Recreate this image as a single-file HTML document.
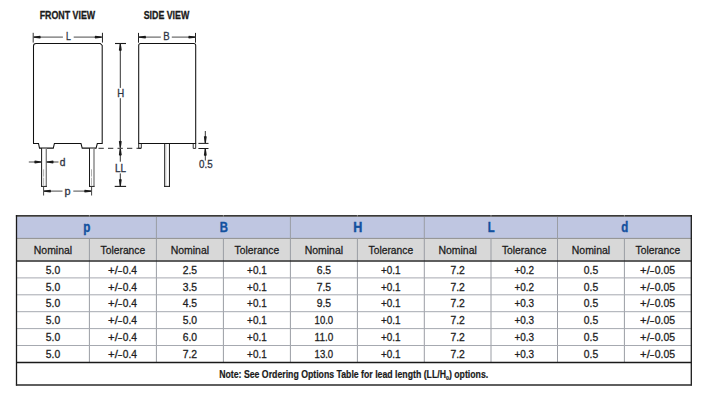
<!DOCTYPE html>
<html><head><meta charset="utf-8"><title>Dimensions</title>
<style>html,body{margin:0;padding:0;background:#fff;width:705px;height:409px;overflow:hidden}svg{display:block}</style>
</head><body>
<svg width="705" height="409" viewBox="0 0 705 409" font-family="'Liberation Sans', Arial, sans-serif">
<rect x="16.50" y="217.00" width="674.80" height="21.30" fill="#bfc6e1"/>
<rect x="16.50" y="238.30" width="674.80" height="21.90" fill="#d8d8d8"/>
<line x1="16.50" y1="238.40" x2="691.30" y2="238.40" stroke="#8e8e8e" stroke-width="1.0"/>
<line x1="89.40" y1="238.40" x2="89.40" y2="362.40" stroke="#9a9da4" stroke-width="1.0"/>
<line x1="156.40" y1="217.00" x2="156.40" y2="362.40" stroke="#9a9da4" stroke-width="1.0"/>
<line x1="223.40" y1="238.40" x2="223.40" y2="362.40" stroke="#9a9da4" stroke-width="1.0"/>
<line x1="290.40" y1="217.00" x2="290.40" y2="362.40" stroke="#9a9da4" stroke-width="1.0"/>
<line x1="357.40" y1="238.40" x2="357.40" y2="362.40" stroke="#9a9da4" stroke-width="1.0"/>
<line x1="424.30" y1="217.00" x2="424.30" y2="362.40" stroke="#9a9da4" stroke-width="1.0"/>
<line x1="491.00" y1="238.40" x2="491.00" y2="362.40" stroke="#9a9da4" stroke-width="1.0"/>
<line x1="557.50" y1="217.00" x2="557.50" y2="362.40" stroke="#9a9da4" stroke-width="1.0"/>
<line x1="624.40" y1="238.40" x2="624.40" y2="362.40" stroke="#9a9da4" stroke-width="1.0"/>
<line x1="16.50" y1="277.90" x2="691.30" y2="277.90" stroke="#a6a9b0" stroke-width="1.0"/>
<line x1="16.50" y1="294.80" x2="691.30" y2="294.80" stroke="#a6a9b0" stroke-width="1.0"/>
<line x1="16.50" y1="311.70" x2="691.30" y2="311.70" stroke="#a6a9b0" stroke-width="1.0"/>
<line x1="16.50" y1="328.60" x2="691.30" y2="328.60" stroke="#a6a9b0" stroke-width="1.0"/>
<line x1="16.50" y1="345.50" x2="691.30" y2="345.50" stroke="#a6a9b0" stroke-width="1.0"/>
<line x1="16.50" y1="261.00" x2="691.30" y2="261.00" stroke="#2a2a2a" stroke-width="1.6"/>
<line x1="16.50" y1="362.40" x2="691.30" y2="362.40" stroke="#1a1a1a" stroke-width="1.5"/>
<line x1="15.90" y1="215.90" x2="691.90" y2="215.90" stroke="#3a3a3a" stroke-width="1.9"/>
<line x1="16.50" y1="215.00" x2="16.50" y2="385.60" stroke="#1a1a1a" stroke-width="1.3"/>
<line x1="691.30" y1="215.00" x2="691.30" y2="385.60" stroke="#1a1a1a" stroke-width="1.3"/>
<line x1="15.90" y1="385.00" x2="691.90" y2="385.00" stroke="#2a2a2a" stroke-width="1.5"/>
<line x1="89.40" y1="215.00" x2="89.40" y2="217.00" stroke="#8a8a8a" stroke-width="1.0"/>
<line x1="223.40" y1="215.00" x2="223.40" y2="217.00" stroke="#8a8a8a" stroke-width="1.0"/>
<line x1="357.40" y1="215.00" x2="357.40" y2="217.00" stroke="#8a8a8a" stroke-width="1.0"/>
<line x1="491.00" y1="215.00" x2="491.00" y2="217.00" stroke="#8a8a8a" stroke-width="1.0"/>
<line x1="624.40" y1="215.00" x2="624.40" y2="217.00" stroke="#8a8a8a" stroke-width="1.0"/>
<text x="86.80" y="231.90" font-size="14" text-anchor="middle" font-weight="bold" fill="#13519f" stroke="#13519f" stroke-width="0.4" textLength="7.10" lengthAdjust="spacingAndGlyphs">p</text>
<text x="223.75" y="231.90" font-size="14" text-anchor="middle" font-weight="bold" fill="#13519f" stroke="#13519f" stroke-width="0.4" textLength="8.20" lengthAdjust="spacingAndGlyphs">B</text>
<text x="357.70" y="231.90" font-size="14" text-anchor="middle" font-weight="bold" fill="#13519f" stroke="#13519f" stroke-width="0.4" textLength="9.10" lengthAdjust="spacingAndGlyphs">H</text>
<text x="491.25" y="231.90" font-size="14" text-anchor="middle" font-weight="bold" fill="#13519f" stroke="#13519f" stroke-width="0.4" textLength="6.90" lengthAdjust="spacingAndGlyphs">L</text>
<text x="624.75" y="231.90" font-size="14" text-anchor="middle" font-weight="bold" fill="#13519f" stroke="#13519f" stroke-width="0.4" textLength="7.00" lengthAdjust="spacingAndGlyphs">d</text>
<text x="52.95" y="253.80" font-size="11.8" text-anchor="middle" font-weight="normal" fill="#1c1c1c" stroke="#1c1c1c" stroke-width="0.3" textLength="38.40" lengthAdjust="spacingAndGlyphs">Nominal</text>
<text x="122.90" y="253.80" font-size="11.8" text-anchor="middle" font-weight="normal" fill="#1c1c1c" stroke="#1c1c1c" stroke-width="0.3" textLength="44.60" lengthAdjust="spacingAndGlyphs">Tolerance</text>
<text x="189.90" y="253.80" font-size="11.8" text-anchor="middle" font-weight="normal" fill="#1c1c1c" stroke="#1c1c1c" stroke-width="0.3" textLength="38.40" lengthAdjust="spacingAndGlyphs">Nominal</text>
<text x="256.90" y="253.80" font-size="11.8" text-anchor="middle" font-weight="normal" fill="#1c1c1c" stroke="#1c1c1c" stroke-width="0.3" textLength="44.60" lengthAdjust="spacingAndGlyphs">Tolerance</text>
<text x="323.90" y="253.80" font-size="11.8" text-anchor="middle" font-weight="normal" fill="#1c1c1c" stroke="#1c1c1c" stroke-width="0.3" textLength="38.40" lengthAdjust="spacingAndGlyphs">Nominal</text>
<text x="390.85" y="253.80" font-size="11.8" text-anchor="middle" font-weight="normal" fill="#1c1c1c" stroke="#1c1c1c" stroke-width="0.3" textLength="44.60" lengthAdjust="spacingAndGlyphs">Tolerance</text>
<text x="457.65" y="253.80" font-size="11.8" text-anchor="middle" font-weight="normal" fill="#1c1c1c" stroke="#1c1c1c" stroke-width="0.3" textLength="38.40" lengthAdjust="spacingAndGlyphs">Nominal</text>
<text x="524.25" y="253.80" font-size="11.8" text-anchor="middle" font-weight="normal" fill="#1c1c1c" stroke="#1c1c1c" stroke-width="0.3" textLength="44.60" lengthAdjust="spacingAndGlyphs">Tolerance</text>
<text x="590.95" y="253.80" font-size="11.8" text-anchor="middle" font-weight="normal" fill="#1c1c1c" stroke="#1c1c1c" stroke-width="0.3" textLength="38.40" lengthAdjust="spacingAndGlyphs">Nominal</text>
<text x="657.85" y="253.80" font-size="11.8" text-anchor="middle" font-weight="normal" fill="#1c1c1c" stroke="#1c1c1c" stroke-width="0.3" textLength="44.60" lengthAdjust="spacingAndGlyphs">Tolerance</text>
<text x="52.95" y="273.90" font-size="11" text-anchor="middle" font-weight="normal" fill="#1e1e1e" stroke="#1e1e1e" stroke-width="0.3" textLength="14.40" lengthAdjust="spacingAndGlyphs">5.0</text>
<text y="273.90" font-size="11" fill="#1e1e1e" stroke="#1e1e1e" stroke-width="0.3"><tspan x="108.09" textLength="9.75" lengthAdjust="spacingAndGlyphs">+/</tspan><tspan x="117.62" textLength="5.05" lengthAdjust="spacingAndGlyphs">-</tspan><tspan x="122.85" textLength="14.20" lengthAdjust="spacingAndGlyphs">0.4</tspan></text>
<text x="189.90" y="273.90" font-size="11" text-anchor="middle" font-weight="normal" fill="#1e1e1e" stroke="#1e1e1e" stroke-width="0.3" textLength="14.40" lengthAdjust="spacingAndGlyphs">2.5</text>
<text x="256.90" y="273.90" font-size="11" text-anchor="middle" font-weight="normal" fill="#1e1e1e" stroke="#1e1e1e" stroke-width="0.3" textLength="19.60" lengthAdjust="spacingAndGlyphs">+0.1</text>
<text x="323.90" y="273.90" font-size="11" text-anchor="middle" font-weight="normal" fill="#1e1e1e" stroke="#1e1e1e" stroke-width="0.3" textLength="14.40" lengthAdjust="spacingAndGlyphs">6.5</text>
<text x="390.85" y="273.90" font-size="11" text-anchor="middle" font-weight="normal" fill="#1e1e1e" stroke="#1e1e1e" stroke-width="0.3" textLength="19.60" lengthAdjust="spacingAndGlyphs">+0.1</text>
<text x="457.65" y="273.90" font-size="11" text-anchor="middle" font-weight="normal" fill="#1e1e1e" stroke="#1e1e1e" stroke-width="0.3" textLength="14.40" lengthAdjust="spacingAndGlyphs">7.2</text>
<text x="524.25" y="273.90" font-size="11" text-anchor="middle" font-weight="normal" fill="#1e1e1e" stroke="#1e1e1e" stroke-width="0.3" textLength="19.60" lengthAdjust="spacingAndGlyphs">+0.2</text>
<text x="590.95" y="273.90" font-size="11" text-anchor="middle" font-weight="normal" fill="#1e1e1e" stroke="#1e1e1e" stroke-width="0.3" textLength="14.40" lengthAdjust="spacingAndGlyphs">0.5</text>
<text y="273.90" font-size="11" fill="#1e1e1e" stroke="#1e1e1e" stroke-width="0.3"><tspan x="640.04" textLength="9.75" lengthAdjust="spacingAndGlyphs">+/</tspan><tspan x="649.57" textLength="5.05" lengthAdjust="spacingAndGlyphs">-</tspan><tspan x="654.79" textLength="20.35" lengthAdjust="spacingAndGlyphs">0.05</tspan></text>
<text x="52.95" y="290.66" font-size="11" text-anchor="middle" font-weight="normal" fill="#1e1e1e" stroke="#1e1e1e" stroke-width="0.3" textLength="14.40" lengthAdjust="spacingAndGlyphs">5.0</text>
<text y="290.66" font-size="11" fill="#1e1e1e" stroke="#1e1e1e" stroke-width="0.3"><tspan x="108.09" textLength="9.75" lengthAdjust="spacingAndGlyphs">+/</tspan><tspan x="117.62" textLength="5.05" lengthAdjust="spacingAndGlyphs">-</tspan><tspan x="122.85" textLength="14.20" lengthAdjust="spacingAndGlyphs">0.4</tspan></text>
<text x="189.90" y="290.66" font-size="11" text-anchor="middle" font-weight="normal" fill="#1e1e1e" stroke="#1e1e1e" stroke-width="0.3" textLength="14.40" lengthAdjust="spacingAndGlyphs">3.5</text>
<text x="256.90" y="290.66" font-size="11" text-anchor="middle" font-weight="normal" fill="#1e1e1e" stroke="#1e1e1e" stroke-width="0.3" textLength="19.60" lengthAdjust="spacingAndGlyphs">+0.1</text>
<text x="323.90" y="290.66" font-size="11" text-anchor="middle" font-weight="normal" fill="#1e1e1e" stroke="#1e1e1e" stroke-width="0.3" textLength="14.40" lengthAdjust="spacingAndGlyphs">7.5</text>
<text x="390.85" y="290.66" font-size="11" text-anchor="middle" font-weight="normal" fill="#1e1e1e" stroke="#1e1e1e" stroke-width="0.3" textLength="19.60" lengthAdjust="spacingAndGlyphs">+0.1</text>
<text x="457.65" y="290.66" font-size="11" text-anchor="middle" font-weight="normal" fill="#1e1e1e" stroke="#1e1e1e" stroke-width="0.3" textLength="14.40" lengthAdjust="spacingAndGlyphs">7.2</text>
<text x="524.25" y="290.66" font-size="11" text-anchor="middle" font-weight="normal" fill="#1e1e1e" stroke="#1e1e1e" stroke-width="0.3" textLength="19.60" lengthAdjust="spacingAndGlyphs">+0.2</text>
<text x="590.95" y="290.66" font-size="11" text-anchor="middle" font-weight="normal" fill="#1e1e1e" stroke="#1e1e1e" stroke-width="0.3" textLength="14.40" lengthAdjust="spacingAndGlyphs">0.5</text>
<text y="290.66" font-size="11" fill="#1e1e1e" stroke="#1e1e1e" stroke-width="0.3"><tspan x="640.04" textLength="9.75" lengthAdjust="spacingAndGlyphs">+/</tspan><tspan x="649.57" textLength="5.05" lengthAdjust="spacingAndGlyphs">-</tspan><tspan x="654.79" textLength="20.35" lengthAdjust="spacingAndGlyphs">0.05</tspan></text>
<text x="52.95" y="307.42" font-size="11" text-anchor="middle" font-weight="normal" fill="#1e1e1e" stroke="#1e1e1e" stroke-width="0.3" textLength="14.40" lengthAdjust="spacingAndGlyphs">5.0</text>
<text y="307.42" font-size="11" fill="#1e1e1e" stroke="#1e1e1e" stroke-width="0.3"><tspan x="108.09" textLength="9.75" lengthAdjust="spacingAndGlyphs">+/</tspan><tspan x="117.62" textLength="5.05" lengthAdjust="spacingAndGlyphs">-</tspan><tspan x="122.85" textLength="14.20" lengthAdjust="spacingAndGlyphs">0.4</tspan></text>
<text x="189.90" y="307.42" font-size="11" text-anchor="middle" font-weight="normal" fill="#1e1e1e" stroke="#1e1e1e" stroke-width="0.3" textLength="14.40" lengthAdjust="spacingAndGlyphs">4.5</text>
<text x="256.90" y="307.42" font-size="11" text-anchor="middle" font-weight="normal" fill="#1e1e1e" stroke="#1e1e1e" stroke-width="0.3" textLength="19.60" lengthAdjust="spacingAndGlyphs">+0.1</text>
<text x="323.90" y="307.42" font-size="11" text-anchor="middle" font-weight="normal" fill="#1e1e1e" stroke="#1e1e1e" stroke-width="0.3" textLength="14.40" lengthAdjust="spacingAndGlyphs">9.5</text>
<text x="390.85" y="307.42" font-size="11" text-anchor="middle" font-weight="normal" fill="#1e1e1e" stroke="#1e1e1e" stroke-width="0.3" textLength="19.60" lengthAdjust="spacingAndGlyphs">+0.1</text>
<text x="457.65" y="307.42" font-size="11" text-anchor="middle" font-weight="normal" fill="#1e1e1e" stroke="#1e1e1e" stroke-width="0.3" textLength="14.40" lengthAdjust="spacingAndGlyphs">7.2</text>
<text x="524.25" y="307.42" font-size="11" text-anchor="middle" font-weight="normal" fill="#1e1e1e" stroke="#1e1e1e" stroke-width="0.3" textLength="19.60" lengthAdjust="spacingAndGlyphs">+0.3</text>
<text x="590.95" y="307.42" font-size="11" text-anchor="middle" font-weight="normal" fill="#1e1e1e" stroke="#1e1e1e" stroke-width="0.3" textLength="14.40" lengthAdjust="spacingAndGlyphs">0.5</text>
<text y="307.42" font-size="11" fill="#1e1e1e" stroke="#1e1e1e" stroke-width="0.3"><tspan x="640.04" textLength="9.75" lengthAdjust="spacingAndGlyphs">+/</tspan><tspan x="649.57" textLength="5.05" lengthAdjust="spacingAndGlyphs">-</tspan><tspan x="654.79" textLength="20.35" lengthAdjust="spacingAndGlyphs">0.05</tspan></text>
<text x="52.95" y="324.18" font-size="11" text-anchor="middle" font-weight="normal" fill="#1e1e1e" stroke="#1e1e1e" stroke-width="0.3" textLength="14.40" lengthAdjust="spacingAndGlyphs">5.0</text>
<text y="324.18" font-size="11" fill="#1e1e1e" stroke="#1e1e1e" stroke-width="0.3"><tspan x="108.09" textLength="9.75" lengthAdjust="spacingAndGlyphs">+/</tspan><tspan x="117.62" textLength="5.05" lengthAdjust="spacingAndGlyphs">-</tspan><tspan x="122.85" textLength="14.20" lengthAdjust="spacingAndGlyphs">0.4</tspan></text>
<text x="189.90" y="324.18" font-size="11" text-anchor="middle" font-weight="normal" fill="#1e1e1e" stroke="#1e1e1e" stroke-width="0.3" textLength="14.40" lengthAdjust="spacingAndGlyphs">5.0</text>
<text x="256.90" y="324.18" font-size="11" text-anchor="middle" font-weight="normal" fill="#1e1e1e" stroke="#1e1e1e" stroke-width="0.3" textLength="19.60" lengthAdjust="spacingAndGlyphs">+0.1</text>
<text x="323.90" y="324.18" font-size="11" text-anchor="middle" font-weight="normal" fill="#1e1e1e" stroke="#1e1e1e" stroke-width="0.3" textLength="18.60" lengthAdjust="spacingAndGlyphs">10.0</text>
<text x="390.85" y="324.18" font-size="11" text-anchor="middle" font-weight="normal" fill="#1e1e1e" stroke="#1e1e1e" stroke-width="0.3" textLength="19.60" lengthAdjust="spacingAndGlyphs">+0.1</text>
<text x="457.65" y="324.18" font-size="11" text-anchor="middle" font-weight="normal" fill="#1e1e1e" stroke="#1e1e1e" stroke-width="0.3" textLength="14.40" lengthAdjust="spacingAndGlyphs">7.2</text>
<text x="524.25" y="324.18" font-size="11" text-anchor="middle" font-weight="normal" fill="#1e1e1e" stroke="#1e1e1e" stroke-width="0.3" textLength="19.60" lengthAdjust="spacingAndGlyphs">+0.3</text>
<text x="590.95" y="324.18" font-size="11" text-anchor="middle" font-weight="normal" fill="#1e1e1e" stroke="#1e1e1e" stroke-width="0.3" textLength="14.40" lengthAdjust="spacingAndGlyphs">0.5</text>
<text y="324.18" font-size="11" fill="#1e1e1e" stroke="#1e1e1e" stroke-width="0.3"><tspan x="640.04" textLength="9.75" lengthAdjust="spacingAndGlyphs">+/</tspan><tspan x="649.57" textLength="5.05" lengthAdjust="spacingAndGlyphs">-</tspan><tspan x="654.79" textLength="20.35" lengthAdjust="spacingAndGlyphs">0.05</tspan></text>
<text x="52.95" y="340.94" font-size="11" text-anchor="middle" font-weight="normal" fill="#1e1e1e" stroke="#1e1e1e" stroke-width="0.3" textLength="14.40" lengthAdjust="spacingAndGlyphs">5.0</text>
<text y="340.94" font-size="11" fill="#1e1e1e" stroke="#1e1e1e" stroke-width="0.3"><tspan x="108.09" textLength="9.75" lengthAdjust="spacingAndGlyphs">+/</tspan><tspan x="117.62" textLength="5.05" lengthAdjust="spacingAndGlyphs">-</tspan><tspan x="122.85" textLength="14.20" lengthAdjust="spacingAndGlyphs">0.4</tspan></text>
<text x="189.90" y="340.94" font-size="11" text-anchor="middle" font-weight="normal" fill="#1e1e1e" stroke="#1e1e1e" stroke-width="0.3" textLength="14.40" lengthAdjust="spacingAndGlyphs">6.0</text>
<text x="256.90" y="340.94" font-size="11" text-anchor="middle" font-weight="normal" fill="#1e1e1e" stroke="#1e1e1e" stroke-width="0.3" textLength="19.60" lengthAdjust="spacingAndGlyphs">+0.1</text>
<text x="323.90" y="340.94" font-size="11" text-anchor="middle" font-weight="normal" fill="#1e1e1e" stroke="#1e1e1e" stroke-width="0.3" textLength="18.60" lengthAdjust="spacingAndGlyphs">11.0</text>
<text x="390.85" y="340.94" font-size="11" text-anchor="middle" font-weight="normal" fill="#1e1e1e" stroke="#1e1e1e" stroke-width="0.3" textLength="19.60" lengthAdjust="spacingAndGlyphs">+0.1</text>
<text x="457.65" y="340.94" font-size="11" text-anchor="middle" font-weight="normal" fill="#1e1e1e" stroke="#1e1e1e" stroke-width="0.3" textLength="14.40" lengthAdjust="spacingAndGlyphs">7.2</text>
<text x="524.25" y="340.94" font-size="11" text-anchor="middle" font-weight="normal" fill="#1e1e1e" stroke="#1e1e1e" stroke-width="0.3" textLength="19.60" lengthAdjust="spacingAndGlyphs">+0.3</text>
<text x="590.95" y="340.94" font-size="11" text-anchor="middle" font-weight="normal" fill="#1e1e1e" stroke="#1e1e1e" stroke-width="0.3" textLength="14.40" lengthAdjust="spacingAndGlyphs">0.5</text>
<text y="340.94" font-size="11" fill="#1e1e1e" stroke="#1e1e1e" stroke-width="0.3"><tspan x="640.04" textLength="9.75" lengthAdjust="spacingAndGlyphs">+/</tspan><tspan x="649.57" textLength="5.05" lengthAdjust="spacingAndGlyphs">-</tspan><tspan x="654.79" textLength="20.35" lengthAdjust="spacingAndGlyphs">0.05</tspan></text>
<text x="52.95" y="357.70" font-size="11" text-anchor="middle" font-weight="normal" fill="#1e1e1e" stroke="#1e1e1e" stroke-width="0.3" textLength="14.40" lengthAdjust="spacingAndGlyphs">5.0</text>
<text y="357.70" font-size="11" fill="#1e1e1e" stroke="#1e1e1e" stroke-width="0.3"><tspan x="108.09" textLength="9.75" lengthAdjust="spacingAndGlyphs">+/</tspan><tspan x="117.62" textLength="5.05" lengthAdjust="spacingAndGlyphs">-</tspan><tspan x="122.85" textLength="14.20" lengthAdjust="spacingAndGlyphs">0.4</tspan></text>
<text x="189.90" y="357.70" font-size="11" text-anchor="middle" font-weight="normal" fill="#1e1e1e" stroke="#1e1e1e" stroke-width="0.3" textLength="14.40" lengthAdjust="spacingAndGlyphs">7.2</text>
<text x="256.90" y="357.70" font-size="11" text-anchor="middle" font-weight="normal" fill="#1e1e1e" stroke="#1e1e1e" stroke-width="0.3" textLength="19.60" lengthAdjust="spacingAndGlyphs">+0.1</text>
<text x="323.90" y="357.70" font-size="11" text-anchor="middle" font-weight="normal" fill="#1e1e1e" stroke="#1e1e1e" stroke-width="0.3" textLength="18.60" lengthAdjust="spacingAndGlyphs">13.0</text>
<text x="390.85" y="357.70" font-size="11" text-anchor="middle" font-weight="normal" fill="#1e1e1e" stroke="#1e1e1e" stroke-width="0.3" textLength="19.60" lengthAdjust="spacingAndGlyphs">+0.1</text>
<text x="457.65" y="357.70" font-size="11" text-anchor="middle" font-weight="normal" fill="#1e1e1e" stroke="#1e1e1e" stroke-width="0.3" textLength="14.40" lengthAdjust="spacingAndGlyphs">7.2</text>
<text x="524.25" y="357.70" font-size="11" text-anchor="middle" font-weight="normal" fill="#1e1e1e" stroke="#1e1e1e" stroke-width="0.3" textLength="19.60" lengthAdjust="spacingAndGlyphs">+0.3</text>
<text x="590.95" y="357.70" font-size="11" text-anchor="middle" font-weight="normal" fill="#1e1e1e" stroke="#1e1e1e" stroke-width="0.3" textLength="14.40" lengthAdjust="spacingAndGlyphs">0.5</text>
<text y="357.70" font-size="11" fill="#1e1e1e" stroke="#1e1e1e" stroke-width="0.3"><tspan x="640.04" textLength="9.75" lengthAdjust="spacingAndGlyphs">+/</tspan><tspan x="649.57" textLength="5.05" lengthAdjust="spacingAndGlyphs">-</tspan><tspan x="654.79" textLength="20.35" lengthAdjust="spacingAndGlyphs">0.05</tspan></text>
<text x="219.2" y="377.7" font-size="10" font-weight="bold" fill="#1a1a1a" stroke="#1a1a1a" stroke-width="0.2" textLength="269" lengthAdjust="spacingAndGlyphs">Note: See Ordering Options Table for lead length (LL/H<tspan font-size="6" dy="2">0</tspan><tspan dy="-2">) options.</tspan></text>
<text x="67.40" y="18.80" font-size="10.0" text-anchor="middle" font-weight="bold" fill="#1a1a1a" stroke="#1a1a1a" stroke-width="0.3" textLength="55.50" lengthAdjust="spacingAndGlyphs">FRONT VIEW</text>
<text x="166.50" y="19.30" font-size="10.0" text-anchor="middle" font-weight="bold" fill="#1a1a1a" stroke="#1a1a1a" stroke-width="0.3" textLength="45.60" lengthAdjust="spacingAndGlyphs">SIDE VIEW</text>
<path d="M33.5,143.5 V46.0 Q33.5,43.5 36.0,43.5 H100.2 L102.2,45.5 V143.5 H97.3 L96.1,148.1 H82.2 L81.0,143.5 H54.4 L53.3,148.1 H39.5 L38.5,143.5 Z" fill="none" stroke="#111" stroke-width="1.05"/>
<rect x="41.60" y="148.7" width="4.70" height="37.7" fill="#fff"/>
<line x1="46.30" y1="148.10" x2="46.30" y2="186.40" stroke="#7a7a7a" stroke-width="1.3"/>
<line x1="41.60" y1="148.10" x2="41.60" y2="186.90" stroke="#1a1a1a" stroke-width="1.0"/>
<line x1="41.10" y1="186.40" x2="46.90" y2="186.40" stroke="#1a1a1a" stroke-width="1.0"/>
<line x1="43.60" y1="169.30" x2="43.60" y2="176.60" stroke="#b0b0b0" stroke-width="1.0"/>
<line x1="43.60" y1="177.70" x2="43.60" y2="185.60" stroke="#b8b8b8" stroke-width="1.0"/>
<rect x="89.50" y="148.7" width="4.50" height="37.7" fill="#fff"/>
<line x1="94.00" y1="148.10" x2="94.00" y2="186.40" stroke="#7a7a7a" stroke-width="1.3"/>
<line x1="89.50" y1="148.10" x2="89.50" y2="186.90" stroke="#1a1a1a" stroke-width="1.0"/>
<line x1="89.00" y1="186.40" x2="94.60" y2="186.40" stroke="#1a1a1a" stroke-width="1.0"/>
<line x1="91.50" y1="169.30" x2="91.50" y2="176.60" stroke="#b0b0b0" stroke-width="1.0"/>
<line x1="91.50" y1="177.70" x2="91.50" y2="185.60" stroke="#b8b8b8" stroke-width="1.0"/>
<line x1="33.20" y1="32.80" x2="33.20" y2="42.60" stroke="#333" stroke-width="1"/>
<line x1="102.45" y1="32.80" x2="102.45" y2="42.60" stroke="#222" stroke-width="1"/>
<line x1="33.50" y1="37.10" x2="62.90" y2="37.10" stroke="#5a5a5a" stroke-width="1.1"/>
<line x1="73.70" y1="37.10" x2="102.00" y2="37.10" stroke="#5a5a5a" stroke-width="1.1"/>
<path d="M33.70,36.55 L40.20,35.65 Q41.40,37.10 40.20,38.55 L33.70,37.65 Z" fill="#1a1a1a"/>
<path d="M101.70,37.65 L95.20,38.55 Q94.00,37.10 95.20,35.65 L101.70,36.55 Z" fill="#1a1a1a"/>
<text x="68.30" y="39.60" font-size="10.4" text-anchor="middle" font-weight="normal" fill="#2e3442" stroke="#2e3442" stroke-width="0.3" textLength="4.85" lengthAdjust="spacingAndGlyphs">L</text>
<line x1="115.00" y1="43.50" x2="126.00" y2="43.50" stroke="#1a1a1a" stroke-width="1.1"/>
<line x1="120.30" y1="43.50" x2="120.30" y2="87.90" stroke="#333" stroke-width="1.0"/>
<line x1="120.30" y1="98.20" x2="120.30" y2="148.00" stroke="#333" stroke-width="1.0"/>
<path d="M120.85,43.80 L121.75,50.30 Q120.30,51.50 118.85,50.30 L119.75,43.80 Z" fill="#1a1a1a"/>
<path d="M119.75,147.80 L118.85,141.30 Q120.30,140.10 121.75,141.30 L120.85,147.80 Z" fill="#1a1a1a"/>
<text x="120.80" y="96.70" font-size="10.6" text-anchor="middle" font-weight="normal" fill="#2e3442" stroke="#2e3442" stroke-width="0.3" textLength="6.95" lengthAdjust="spacingAndGlyphs">H</text>
<line x1="120.30" y1="148.60" x2="120.30" y2="161.70" stroke="#333" stroke-width="1.0"/>
<line x1="120.30" y1="173.40" x2="120.30" y2="186.30" stroke="#333" stroke-width="1.0"/>
<path d="M120.85,148.60 L121.75,155.10 Q120.30,156.30 118.85,155.10 L119.75,148.60 Z" fill="#1a1a1a"/>
<path d="M119.75,186.00 L118.85,179.50 Q120.30,178.30 121.75,179.50 L120.85,186.00 Z" fill="#1a1a1a"/>
<line x1="114.70" y1="186.40" x2="126.10" y2="186.40" stroke="#1a1a1a" stroke-width="1.1"/>
<text x="120.50" y="171.90" font-size="10.2" text-anchor="middle" font-weight="normal" fill="#2e3442" stroke="#2e3442" stroke-width="0.3" textLength="11.00" lengthAdjust="spacingAndGlyphs">LL</text>
<line x1="98.5" y1="148.4" x2="141" y2="148.4" stroke="#555" stroke-width="1.1" stroke-dasharray="5.3 4.2"/>
<line x1="28.80" y1="162.00" x2="41.20" y2="162.00" stroke="#5a5a5a" stroke-width="1.1"/>
<path d="M41.30,162.55 L34.80,163.45 Q33.60,162.00 34.80,160.55 L41.30,161.45 Z" fill="#1a1a1a"/>
<line x1="46.60" y1="162.00" x2="58.50" y2="162.00" stroke="#5a5a5a" stroke-width="1.1"/>
<path d="M46.60,161.45 L53.10,160.55 Q54.30,162.00 53.10,163.45 L46.60,162.55 Z" fill="#1a1a1a"/>
<text x="62.50" y="165.90" font-size="10.6" text-anchor="middle" font-weight="normal" fill="#2e3442" stroke="#2e3442" stroke-width="0.3" textLength="5.70" lengthAdjust="spacingAndGlyphs">d</text>
<line x1="43.60" y1="186.90" x2="43.60" y2="195.50" stroke="#444" stroke-width="1"/>
<line x1="91.60" y1="186.90" x2="91.60" y2="195.50" stroke="#444" stroke-width="1"/>
<line x1="43.80" y1="191.10" x2="62.50" y2="191.10" stroke="#5a5a5a" stroke-width="1.1"/>
<line x1="73.30" y1="191.10" x2="91.40" y2="191.10" stroke="#5a5a5a" stroke-width="1.1"/>
<path d="M44.00,190.55 L50.50,189.65 Q51.70,191.10 50.50,192.55 L44.00,191.65 Z" fill="#1a1a1a"/>
<path d="M91.20,191.65 L84.70,192.55 Q83.50,191.10 84.70,189.65 L91.20,190.55 Z" fill="#1a1a1a"/>
<text x="67.60" y="194.50" font-size="10.8" text-anchor="middle" font-weight="normal" fill="#2e3442" stroke="#2e3442" stroke-width="0.3" textLength="6.10" lengthAdjust="spacingAndGlyphs">p</text>
<path d="M138.7,143.5 V45.5 Q138.7,43.5 140.7,43.5 H193.7 Q195.7,43.5 195.7,45.5 V143.5 Z" fill="none" stroke="#111" stroke-width="1.05"/>
<path d="M138.7,143.4 V148.3 H141.3 V143.4" fill="none" stroke="#1a1a1a" stroke-width="0.9"/>
<path d="M193.2,143.4 V148.4 H195.7 V143.4" fill="none" stroke="#1a1a1a" stroke-width="0.9"/>
<rect x="164.8" y="144.1" width="4.6" height="42.3" fill="#fff"/>
<line x1="164.70" y1="143.40" x2="164.70" y2="186.90" stroke="#1a1a1a" stroke-width="1.0"/>
<line x1="169.45" y1="143.40" x2="169.45" y2="186.90" stroke="#1a1a1a" stroke-width="1.0"/>
<line x1="165.90" y1="144.00" x2="165.90" y2="186.00" stroke="#c4c4c4" stroke-width="0.9"/>
<line x1="164.20" y1="186.40" x2="169.95" y2="186.40" stroke="#1a1a1a" stroke-width="1.0"/>
<line x1="138.50" y1="32.90" x2="138.50" y2="42.70" stroke="#222" stroke-width="1"/>
<line x1="195.50" y1="32.90" x2="195.50" y2="42.70" stroke="#222" stroke-width="1"/>
<line x1="138.80" y1="37.10" x2="160.80" y2="37.10" stroke="#5a5a5a" stroke-width="1.1"/>
<line x1="171.80" y1="37.10" x2="195.50" y2="37.10" stroke="#5a5a5a" stroke-width="1.1"/>
<path d="M139.00,36.55 L145.50,35.65 Q146.70,37.10 145.50,38.55 L139.00,37.65 Z" fill="#1a1a1a"/>
<path d="M195.30,37.65 L188.80,38.55 Q187.60,37.10 188.80,35.65 L195.30,36.55 Z" fill="#1a1a1a"/>
<text x="166.35" y="40.00" font-size="11.0" text-anchor="middle" font-weight="normal" fill="#2e3442" stroke="#2e3442" stroke-width="0.3" textLength="6.40" lengthAdjust="spacingAndGlyphs">B</text>
<line x1="198.40" y1="143.40" x2="208.50" y2="143.40" stroke="#1a1a1a" stroke-width="1.0"/>
<line x1="198.40" y1="148.50" x2="208.50" y2="148.50" stroke="#1a1a1a" stroke-width="1.0"/>
<line x1="205.30" y1="131.00" x2="205.30" y2="143.20" stroke="#333" stroke-width="1.0"/>
<path d="M204.75,143.10 L203.85,136.60 Q205.30,135.40 206.75,136.60 L205.85,143.10 Z" fill="#1a1a1a"/>
<line x1="205.30" y1="148.70" x2="205.30" y2="160.50" stroke="#333" stroke-width="1.0"/>
<path d="M205.85,148.80 L206.75,155.30 Q205.30,156.50 203.85,155.30 L204.75,148.80 Z" fill="#1a1a1a"/>
<text x="205.90" y="167.90" font-size="11.2" text-anchor="middle" font-weight="normal" fill="#2e3442" stroke="#2e3442" stroke-width="0.3" textLength="13.60" lengthAdjust="spacingAndGlyphs">0.5</text>
</svg>
</body></html>
